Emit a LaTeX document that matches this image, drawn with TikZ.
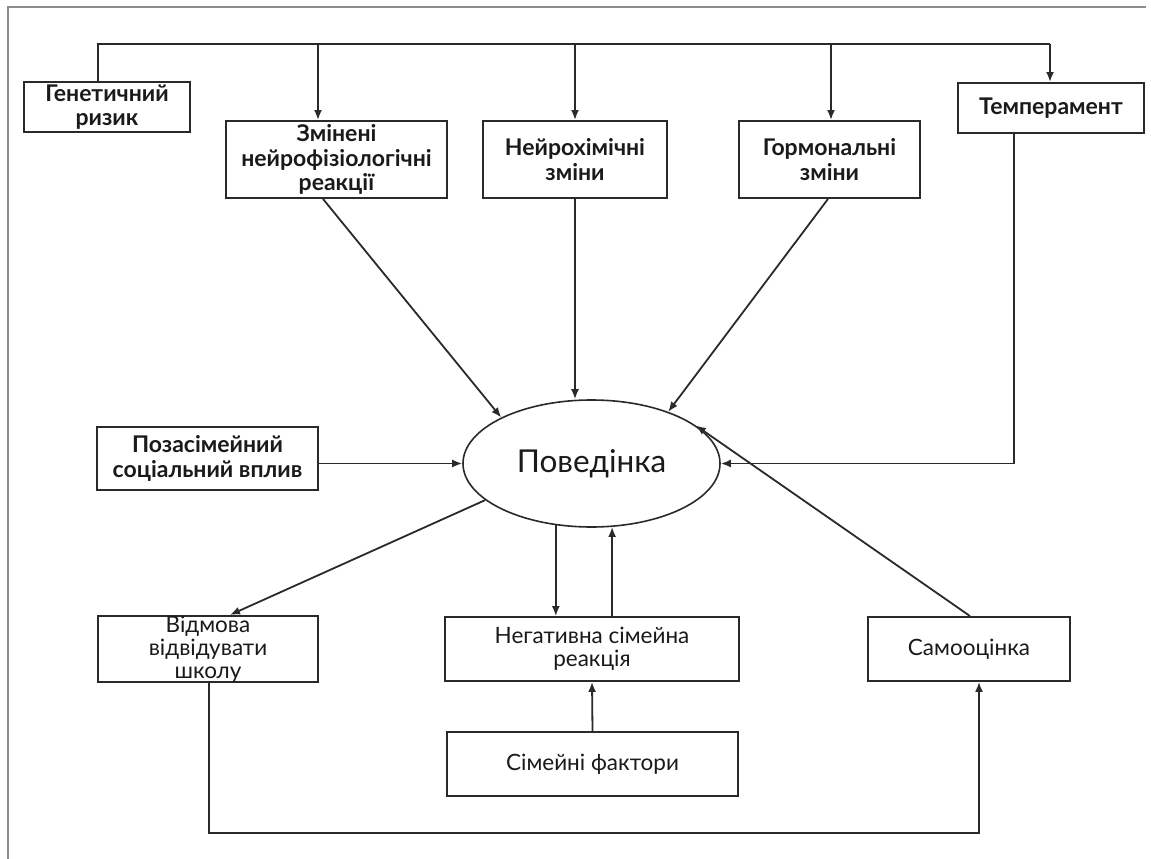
\documentclass[tikz,border=0pt]{standalone}
\usepackage{fontspec}
\setmainfont{Lato}
\usetikzlibrary{shapes.geometric,arrows.meta}
\definecolor{lc}{HTML}{2A2A2A}
\definecolor{fc}{HTML}{8C8C8C}
\definecolor{tc}{HTML}{1A1A1A}
\tikzset{
  box/.style={draw=lc, line width=1.9pt, rectangle, inner sep=0pt, align=center, text=tc},
  topbox/.style={box, font=\fontsize{23}{24.5}\selectfont\bfseries},
  lowbox/.style={box, font=\fontsize{22.5}{23}\selectfont},
  conn/.style={draw=lc, line width=1.8pt},
  bus/.style={draw=lc, line width=2.3pt},
  arr/.style={-{Latex[length=10pt,width=8pt]}},
}
\begin{document}
\begin{tikzpicture}[x=1pt,y=-1pt]
\useasboundingbox (0,0) rectangle (1151,859);
\fill[white] (0,0) rectangle (1151,859);
\draw[fc, line width=1.5pt] (8,859) -- (8,7) -- (1146,7);

% top row
\node[topbox, minimum width=166pt, minimum height=50pt] (gen) at (107,107) {Генетичний\\ризик};
\node[topbox, minimum width=221pt, minimum height=77pt] (zmin) at (336.5,159.5) {Змінені\\нейрофізіологічні\\реакції};
\node[topbox, minimum width=184pt, minimum height=77pt] (neyro) at (575,159.5) {Нейрохімічні\\зміни};
\node[topbox, minimum width=181pt, minimum height=77pt] (gorm) at (829.5,159.5) {Гормональні\\зміни};
\node[topbox, minimum width=186pt, minimum height=50pt] (temp) at (1051,108) {Темперамент};

% middle
\node[topbox, minimum width=221pt, minimum height=63pt] (poza) at (207.5,458.5) {Позасімейний\\соціальний вплив};
\node[draw=lc, line width=1.6pt, ellipse, inner sep=0pt, minimum width=257pt, minimum height=127pt, text=tc,
      font=\fontsize{31.5}{33}\selectfont] (ell) at (591.5,463.5) {Поведінка};

% bottom
\node[lowbox, minimum width=220pt, minimum height=64pt] (vidm) at (208,649) {Відмова\\відвідувати\\школу};
\node[lowbox, minimum width=294pt, minimum height=64pt] (neg) at (592,649) {Негативна сімейна\\реакція};
\node[lowbox, minimum width=202pt, minimum height=64pt] (samo) at (969,649) {Самооцінка};
\node[lowbox, minimum width=291pt, minimum height=64pt] (sim) at (592.5,764) {Сімейні фактори};

% top bus
\coordinate (busL) at (98,44);
\coordinate (busR) at (1050,44);
\coordinate (b1) at (318,44);
\coordinate (b2) at (575,44);
\coordinate (b3) at (831,44);
\draw[bus] (busL |- gen.north) -- (busL) -- (busR);
\draw[bus,arr] (busR) -- (busR |- temp.north);
\draw[bus,arr] (b1) -- (b1 |- zmin.north);
\draw[bus,arr] (b2) -- (b2 |- neyro.north);
\draw[bus,arr] (b3) -- (b3 |- gorm.north);

% into the ellipse
\coordinate (zs) at (323,0);
\coordinate (gs) at (828,0);
\coordinate (ts) at (1014,0);
\draw[conn,arr] (zs |- zmin.south) -- (ell.153.6);
\draw[conn,arr] (neyro.south) -- (ell.north -| neyro.south);
\draw[conn,arr] (gs |- gorm.south) -- (ell.34.3);
\draw[conn,arr] (ts |- temp.south) |- (ell.east);
\draw[conn,arr] (poza.east |- ell.west) -- (ell.west);

% out of / into the ellipse below
\coordinate (vt) at (230,0);
\coordinate (st) at (970,0);
\draw[conn,arr] (ell.199.5) -- (vt |- vidm.north);
\draw[conn,arr] (ell.240.6) -- (ell.240.6 |- neg.north);
\draw[conn,arr] (ell.288.1 |- neg.north) -- (ell.288.1);
\draw[conn,arr] (st |- samo.north) -- (ell.20.35);
\draw[conn,arr] (sim.north) -- (neg.south);

% bottom loop
\coordinate (q1) at (209,833);
\coordinate (q2) at (979,833);
\draw[conn,arr] (q1 |- vidm.south) -- (q1) -- (q2) -- (q2 |- samo.south);
\end{tikzpicture}
\end{document}
